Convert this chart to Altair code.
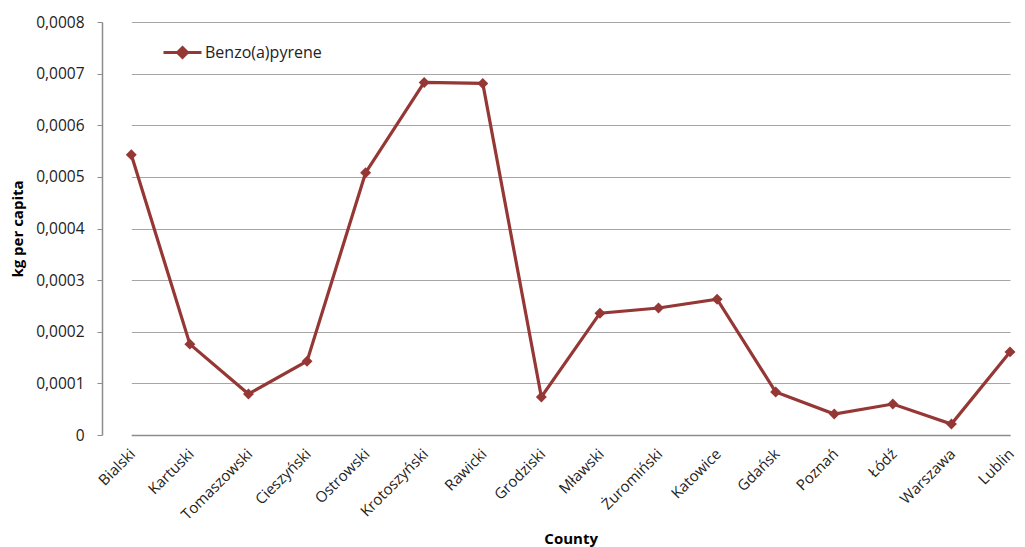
import altair as alt
import pandas as pd

counties = ["Bialski", "Kartuski", "Tomaszowski", "Cieszyński", "Ostrowski",
            "Krotoszyński", "Rawicki", "Grodziski", "Mławski", "Żuromiński",
            "Katowice", "Gdańsk", "Poznań", "Łódź", "Warszawa", "Lublin"]
values = [0.000543, 0.000176, 0.0000795, 0.000143, 0.000508,
          0.000683, 0.000681, 0.0000736, 0.000236, 0.000246,
          0.000263, 0.0000833, 0.0000407, 0.0000600, 0.0000213, 0.000161]
series = "Benzo(a)pyrene"
y_ticks = [0, 0.0001, 0.0002, 0.0003, 0.0004, 0.0005, 0.0006, 0.0007, 0.0008]

df = pd.DataFrame({"County": counties, "value": values, "series": series})

color = "#953735"
font = "Open Sans"

chart = alt.Chart(df).mark_line(
    strokeWidth=3.2,
    point=alt.OverlayMarkDef(shape="diamond", size=120, filled=True, color=color, opacity=1),
).encode(
    x=alt.X("County:N", sort=None,
            scale=alt.Scale(type="point", range=[29.3, 908], padding=0),
            axis=alt.Axis(title="County", labelAngle=-45, labelFontSize=15,
                          labelColor="#222", labelPadding=11, labelOffset=-4, ticks=False,
                          domainColor="#8c8c8c", domainWidth=1.5,
                          titleFontSize=15, titleFontWeight="bold", titleColor="#000",
                          titleY=96, titleBaseline="top", grid=False, labelFont=font, titleFont=font)),
    y=alt.Y("value:Q",
            scale=alt.Scale(domain=[0, 0.0008], nice=False),
            axis=alt.Axis(title="kg per capita", values=y_ticks,
                          labelExpr="datum.value == 0 ? '0' : replace(format(datum.value, '.4f'), '.', ',')",
                          labelFontSize=15.5, labelColor="#222", labelPadding=13,
                          tickSize=5, tickColor="#8c8c8c", domainColor="#8c8c8c", domainWidth=1.5,
                          gridColor="#a6a6a6", gridWidth=1,
                          titleFontSize=15, titleFontWeight="bold", titleColor="#000",
                          titleX=-85, titleBaseline="middle", labelFont=font, titleFont=font)),
    color=alt.Color("series:N", scale=alt.Scale(range=[color]),
                    legend=alt.Legend(title=None, orient="none", legendX=60, legendY=10,
                                      symbolType="M-1,0H1M0,-0.26L0.26,0L0,0.26L-0.26,0Z",
                                      symbolSize=1444, symbolStrokeWidth=3,
                                      symbolFillColor=color, symbolStrokeColor=color,
                                      labelFontSize=16, labelColor="#222", labelFont=font,
                                      labelOffset=2)),
).properties(
    width=923, height=413,
    autosize=alt.AutoSizeParams(type="none"),
    padding={"left": 102, "top": 22, "right": 0, "bottom": 112},
).configure_view(stroke=None)

chart.save("out.html", embed_options={"renderer": "svg", "actions": False})
